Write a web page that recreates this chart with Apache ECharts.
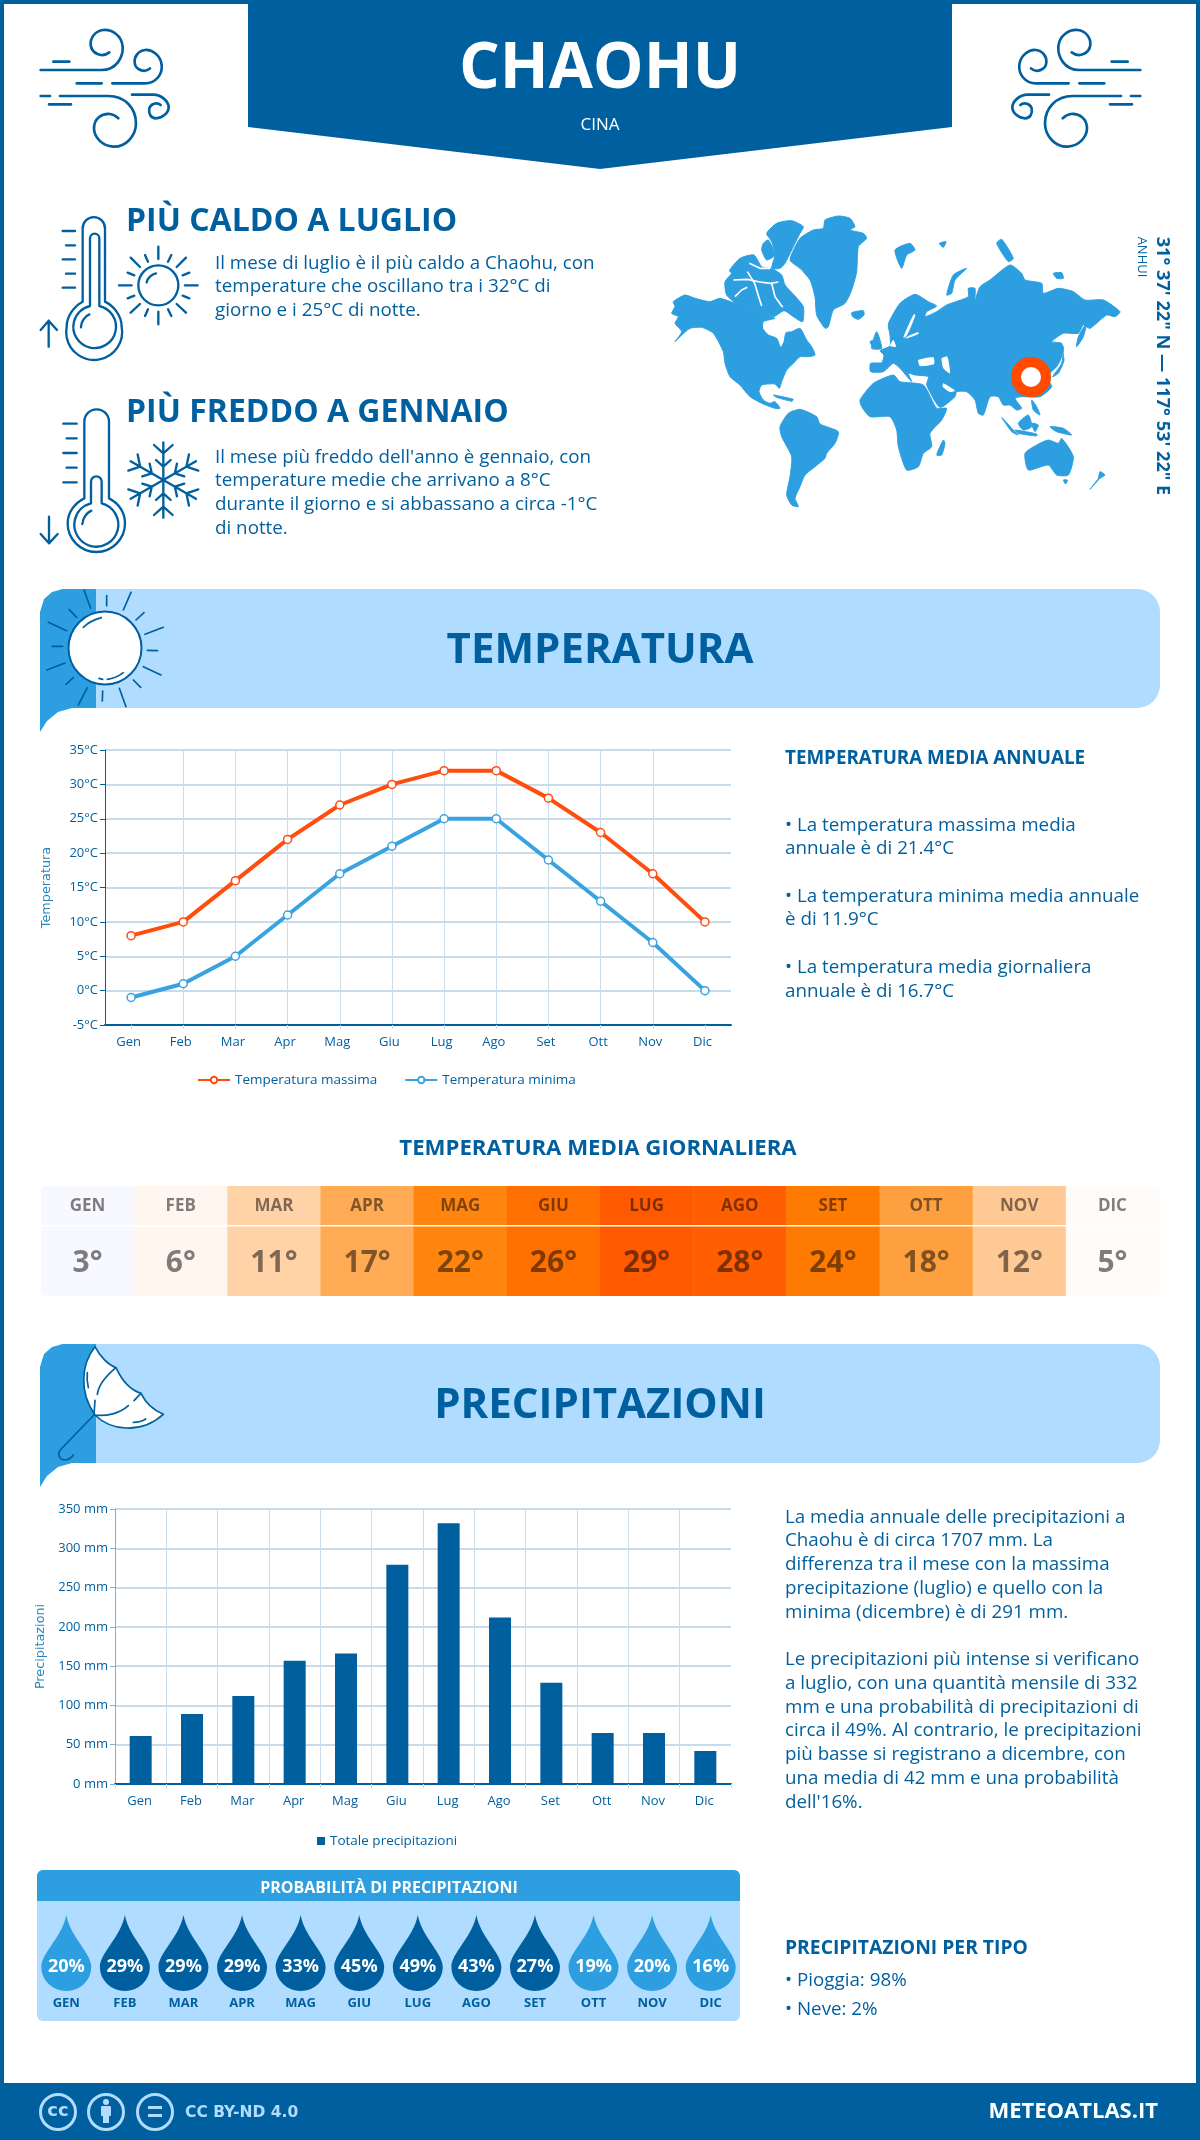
<!DOCTYPE html>
<html lang="it">
<head>
<meta charset="UTF-8">
<title>Chaohu</title>
<script src="https://cdn.jsdelivr.net/npm/echarts@6/dist/echarts.min.js"></script>
<style>
  html, body { margin: 0; padding: 0; background: #fff; }
  #page { width: 1200px; height: 2140px; }
</style>
</head>
<body>
<div id="page"></div>
<script>
// dati del grafico
var months = ['Gen', 'Feb', 'Mar', 'Apr', 'Mag', 'Giu', 'Lug', 'Ago', 'Set', 'Ott', 'Nov', 'Dic'];
var monthsUpper = ['GEN', 'FEB', 'MAR', 'APR', 'MAG', 'GIU', 'LUG', 'AGO', 'SET', 'OTT', 'NOV', 'DIC'];
var tempMax = [8, 10, 16, 22, 27, 30, 32, 32, 28, 23, 17, 10];
var tempMin = [-1, 1, 5, 11, 17, 21, 25, 25, 19, 13, 7, 0];
var tempMean = [3, 6, 11, 17, 22, 26, 29, 28, 24, 18, 12, 5];
var meanColors = ['#f8f9ff', '#fff6f0', '#ffd2a8', '#ffaa55', '#ff850f', '#ff7000', '#ff5a00', '#ff5f00', '#ff7a00', '#ffa040', '#ffc995', '#fffbf8'];
var rainTotal = [61, 89, 112, 157, 166, 279, 332, 212, 129, 65, 65, 42];
var rainProb = [20, 29, 29, 29, 33, 45, 49, 43, 27, 19, 20, 16];

var DARK = '#005f9e', MID = '#2d9fe0', LIGHT = '#b0dcff', ORANGE = '#ff4d0d';
var FONT = '"Open Sans"';

// sagome del planisfero, in pixel del ritaglio ingrandito 3x
var landShapes = [
  [[40,305],[75,285],[105,295],[150,305],[180,295],[225,310],[250,320],[300,325],[335,350],[345,355],[310,365],[308,385],[325,405],[350,415],[362,442],[372,425],[378,398],[395,395],[420,385],[440,420],[455,440],[465,465],[445,470],[420,470],[400,490],[380,510],[365,545],[358,565],[345,552],[305,555],[297,575],[310,600],[330,610],[345,605],[360,625],[345,625],[310,612],[270,590],[240,555],[210,530],[195,490],[190,455],[160,400],[125,382],[90,385],[60,410],[45,425],[65,395],[45,370],[55,350],[35,340],[45,320]],
  [[360,680],[385,640],[420,628],[470,650],[480,672],[535,695],[525,730],[500,760],[495,775],[465,800],[435,825],[420,860],[405,895],[415,920],[395,915],[380,885],[390,830],[395,770],[365,710]],
  [[390,180],[420,115],[460,90],[490,85],[495,60],[535,48],[570,55],[585,80],[570,90],[610,100],[620,115],[595,140],[590,215],[575,270],[555,310],[520,330],[505,380],[495,385],[470,345],[465,290],[450,240],[420,205]],
  [[320,100],[350,70],[395,62],[430,80],[420,100],[395,150],[375,190],[360,205],[335,205],[345,165],[335,125]],
  [[195,245],[215,220],[208,212],[240,175],[282,165],[305,200],[340,208],[365,225],[375,255],[405,288],[430,320],[428,365],[400,350],[372,332],[340,350],[300,325],[240,318],[200,285]],
  [[310,130],[325,120],[345,165],[320,180],[305,150]],
  [[575,338],[610,332],[612,345],[595,358],[578,350]],
  [[632,515],[632,490],[665,488],[672,465],[660,452],[690,438],[690,405],[685,372],[720,310],[765,283],[805,305],[830,318],[800,335],[795,350],[830,335],[860,315],[925,290],[925,265],[945,265],[945,300],[960,260],[990,240],[1050,195],[1085,220],[1095,240],[1145,250],[1150,280],[1195,265],[1240,275],[1275,300],[1330,300],[1380,335],[1365,350],[1340,345],[1290,385],[1270,375],[1255,400],[1210,400],[1175,425],[1205,430],[1205,470],[1190,500],[1160,530],[1175,560],[1140,590],[1085,590],[1065,595],[1085,625],[1070,630],[1050,615],[1030,615],[1015,590],[990,590],[970,645],[955,640],[945,600],[920,575],[890,575],[885,590],[840,622],[800,555],[805,530],[765,525],[745,520],[755,545],[720,505],[700,490],[670,515]],
  [[600,600],[640,550],[700,525],[720,545],[790,555],[830,625],[860,625],[845,660],[810,700],[815,740],[790,760],[775,800],[740,810],[715,740],[710,690],[690,650],[630,650],[605,620]],
  [[830,765],[850,720],[855,730],[845,765]],
  [[1095,760],[1130,735],[1165,720],[1195,730],[1205,715],[1240,770],[1225,825],[1190,825],[1165,795],[1105,810]],
  [[1210,840],[1222,840],[1217,852]],
  [[1290,868],[1320,835],[1335,825],[1320,815],[1315,835]],
  [[1025,652],[1060,690],[1075,705],[1055,695]],
  [[1065,690],[1130,702],[1130,708],[1075,700]],
  [[1075,670],[1105,645],[1115,680],[1090,690]],
  [[1115,670],[1135,675],[1125,695]],
  [[1170,680],[1210,685],[1235,705],[1190,695]],
  [[1115,600],[1130,620],[1140,645],[1120,630]],
  [[1178,530],[1205,490],[1210,440],[1200,430],[1212,480],[1195,520]],
  [[1250,440],[1255,410],[1280,370],[1270,410]],
  [[860,285],[880,225],[920,205],[885,240],[875,280]],
  [[705,150],[750,130],[765,150],[740,165],[725,205]],
  [[838,130],[858,125],[850,142]],
  [[1010,130],[1025,118],[1060,175],[1045,185]],
  [[1180,220],[1205,218],[1210,235],[1190,235]],
  [[650,395],[665,445],[635,445]],
  [[630,425],[645,420],[640,442]],
  [[340,585],[400,598],[395,604],[350,592]]
];
var seaShapes = [
  [[775,480],[820,472],[822,492],[780,498]],
  [[845,475],[862,470],[870,520],[850,505]],
  [[850,550],[885,572],[870,576],[848,560]],
  [[730,412],[747,372],[762,342],[766,346],[751,385],[737,412]],
  [[737,416],[775,402],[775,396],[745,408]],
  [[690,438],[700,420],[708,440]]
];
// canali tra le isole artiche
var channelLines = [
  [[220,240],[262,238],[300,246],[332,250],[355,246]],
  [[262,215],[284,250],[296,290],[305,318]],
  [[335,250],[345,290],[368,322]],
  [[225,290],[245,270],[262,262]],
  [[268,190],[300,205],[330,205]]
];

// icone
var windPath = 'M70,125L118,125M32,150L215,150C260,150 280,110 278,80C275,45 245,28 220,30C195,32 180,55 182,75C185,100 215,115 238,97'
  + 'M140,190L215,190M247,190L345,190C380,190 398,160 395,135C392,105 365,88 345,90C325,92 312,110 314,128C316,150 345,160 360,145'
  + 'M32,228L60,228M90,228L235,228C285,228 318,265 318,310C318,350 285,382 250,380C215,378 192,350 192,325C192,295 215,280 240,282C250,283 258,288 265,295'
  + 'M57,253L123,253M306,224L370,224C395,224 416,245 416,262C416,280 395,295 378,295C362,295 355,280 358,265C362,252 380,245 392,255';
var hotPath = 'M158,290L158,70A33,33 0 0 1 225,70L225,290C255,305 275,335 275,365A84,84 0 1 1 110,365C110,335 130,305 158,290Z'
  + 'M180,303L180,100A14,14 0 0 1 208,100L208,303A64,64 0 1 1 180,303Z'
  + 'M153,367C153,350 165,333 178,328M98,78L135,78M108,121L135,121M98,163L135,163M108,206L135,206M98,248L135,248'
  + 'M56,425L56,347M32,375L56,347L81,375';
var sunPath = 'M445,241A60,60 0 1 1 325,241A60,60 0 1 1 445,241ZM350,232C352,220 365,208 378,205'
  + 'M385,125L385,162M385,320L385,358M267,241L305,241M465,241L503,241M302,158L330,186M468,158L440,186M302,323L330,297M468,323L440,297'
  + 'M345,150L354,170M424,150L414,170M293,203L313,211M478,203L458,211M293,280L313,272M478,280L458,272M345,333L354,313M424,333L414,313';
var coldPath = 'M163,295L163,65A37,37 0 0 1 237,65L237,295C268,310 285,340 285,370A86,86 0 1 1 113,370C113,340 132,310 163,295Z'
  + 'M183,310L183,245A16,16 0 0 1 215,245L215,310A66,66 0 1 1 183,310Z'
  + 'M157,372C158,355 170,338 184,332M100,71L140,71M110,115L140,115M100,159L140,159M110,203L140,203M100,247L140,247'
  + 'M57,350L57,430M32,402L57,430L83,402';
var flakeArm = 'M400,127L400,353M372,135L400,160L428,135M378,180L400,200L422,180M372,345L400,320L428,345M378,300L400,280L422,300';
var sunRays = 'M162,15L182,70M230,32L230,62M303,22L280,75M342,83L318,105M400,127L345,148M352,196L383,197M340,245L393,270M310,285L332,307'
  + 'M268,310L288,365M218,318L217,348M172,308L145,360M130,278L108,298M105,234L50,255M98,184L66,184M110,137L55,112M140,97L117,73';
var sunGlow = 'M160,127C175,112 195,103 214,98M232,283C250,281 268,272 280,263M207,280L218,283';
var umbrellaTop = 'M195,35C155,85 145,170 195,240C240,285 330,300 400,238C370,225 345,200 333,175C300,165 275,135 258,98C235,90 210,65 195,35Z';
var umbrellaLines = 'M258,98C225,125 205,155 202,178M195,196L192,238M192,240C230,245 270,235 295,212M312,197L333,175M172,113C170,130 172,145 175,158M310,262C325,262 338,258 347,252'
  + 'M192,240L105,330C90,345 80,355 90,368C100,380 120,375 130,360';

var iconCount = 0;
function label(text, x, y, size, weight, color, align, family) {
  return {
    type: 'text', x: x, y: y + 1.5, z: 10,
    style: {
      text: text, fill: color || DARK, align: align || 'left', verticalAlign: 'middle',
      font: (weight || 400) + ' ' + size + 'px ' + (family || FONT)
    }
  };
}
function lines(rows, x, ys, size) {
  return rows.map(function (t, i) { return label(t, x, ys[i] - 1, size); });
}
function icon(d, ox, oy, width, extra) {
  // il tipo 'path' non va nel componente graphic: registro una forma per ogni icona
  var name = 'icon' + (iconCount++);
  echarts.graphic.registerShape(name, echarts.graphic.extendPath(d));
  var el = {
    type: name, x: ox, y: oy, scaleX: 1 / 3, scaleY: 1 / 3, z: 6,
    style: { fill: 'none', stroke: DARK, lineWidth: width, lineCap: 'round', lineJoin: 'round' }
  };
  for (var k in extra) { el[k] = extra[k]; }
  return el;
}
function banner(top, title) {
  return [
    { type: 'rect', z: 1, shape: { x: 60, y: top, width: 1100, height: 119, r: [0, 23, 23, 0] }, style: { fill: LIGHT } },
    { type: 'polygon', z: 2, shape: { points: [[40, top + 143], [40, top + 23], [44, top + 10], [52, top + 3], [63, top], [96, top], [96, top + 119], [72, top + 119], [58, top + 123], [47, top + 132]] }, style: { fill: MID } },
    label(title, 600, top + 61, 42, 700, DARK, 'center')
  ];
}

var BODY = 18.8;
var graphics = [
  // cornice
  { type: 'rect', shape: { x: 0, y: 0, width: 4, height: 2140 }, style: { fill: DARK } },
  { type: 'rect', shape: { x: 1196, y: 0, width: 4, height: 2140 }, style: { fill: DARK } },
  { type: 'rect', shape: { x: 0, y: 0, width: 1200, height: 4 }, style: { fill: DARK } },
  { type: 'polygon', shape: { points: [[248, 0], [952, 0], [952, 127], [600, 169], [248, 127]] }, style: { fill: DARK } },
  label('CHAOHU', 600, 68.5, 64, 700, '#fff', 'center'),
  label('CINA', 600, 124, 17, 400, '#fff', 'center'),
  icon(windPath, 30, 20, 8),
  icon(windPath, 1151, 20, 8, { scaleX: -1 / 3 }),

  // caldo / freddo
  label('PIÙ CALDO A LUGLIO', 126, 220, 32, 700),
  icon(hotPath, 30, 205, 7),
  icon(sunPath, 30, 205, 7)
];
graphics = graphics.concat(
  lines(['Il mese di luglio è il più caldo a Chaohu, con', 'temperature che oscillano tra i 32°C di', 'giorno e i 25°C di notte.'], 215, [263, 286, 310], BODY),
  [
    label('PIÙ FREDDO A GENNAIO', 126, 411, 32, 700),
    icon(coldPath, 30, 400, 7),
    icon(flakeArm, 30, 400, 7),
    icon(flakeArm, 163.3 - 400, 480 - 240, 7, { rotation: Math.PI / 3, originX: 400, originY: 240 }),
    icon(flakeArm, 163.3 - 400, 480 - 240, 7, { rotation: -Math.PI / 3, originX: 400, originY: 240 })
  ],
  lines(['Il mese più freddo dell\'anno è gennaio, con', 'temperature medie che arrivano a 8°C', 'durante il giorno e si abbassano a circa -1°C', 'di notte.'], 215, [457, 480, 504, 528], BODY),

  // planisfero
  [{
    type: 'group', x: 660, y: 200, scaleX: 1 / 3, scaleY: 1 / 3,
    children: landShapes.map(function (p) {
      return { type: 'polygon', shape: { points: p, smooth: 0.2 }, style: { fill: MID, stroke: MID, lineWidth: 3, lineJoin: 'round' } };
    }).concat(seaShapes.map(function (p) {
      return { type: 'polygon', z: 1, shape: { points: p, smooth: 0.2 }, style: { fill: '#fff' } };
    })).concat(channelLines.map(function (p) {
      return { type: 'polyline', z: 1, shape: { points: p }, style: { fill: 'none', stroke: '#fff', lineWidth: 5, lineJoin: 'round' } };
    }))
  },
  { type: 'circle', z: 5, shape: { cx: 1031, cy: 377, r: 15 }, style: { fill: '#fff', stroke: '#ff4a00', lineWidth: 10 } },
  {
    type: 'text', x: 1162, y: 366, rotation: -Math.PI / 2, z: 5,
    style: { text: '31° 37\' 22" N — 117° 53\' 22" E', fill: DARK, align: 'center', verticalAlign: 'middle', font: '700 18.2px ' + FONT }
  },
  {
    type: 'text', x: 1142, y: 257, rotation: -Math.PI / 2, z: 5,
    style: { text: 'ANHUI', fill: DARK, align: 'center', verticalAlign: 'middle', font: '400 13px ' + FONT }
  }],

  // temperatura
  banner(589, 'TEMPERATURA'),
  [
    { type: 'circle', z: 3, shape: { cx: 105, cy: 648, r: 36.5 }, style: { fill: '#fff', stroke: DARK, lineWidth: 2 } },
    icon(sunRays, 30, 585, 5),
    icon(sunGlow, 30, 585, 5),
    label('TEMPERATURA MEDIA ANNUALE', 785, 757, 18.8, 700)
  ],
  lines(['• La temperatura massima media', 'annuale è di 21.4°C', '• La temperatura minima media annuale', 'è di 11.9°C', '• La temperatura media giornaliera', 'annuale è di 16.7°C'], 785, [825, 848, 896, 919, 967, 991], BODY),
  [label('TEMPERATURA MEDIA GIORNALIERA', 598, 1147, 22.2, 700, DARK, 'center')],

  // precipitazioni
  banner(1344, 'PRECIPITAZIONI'),
  [
    icon(umbrellaTop, 30, 1335, 5, { style: { fill: '#fff', stroke: DARK, lineWidth: 5, lineJoin: 'round' } }),
    icon(umbrellaLines, 30, 1335, 5, { z: 7 })
  ],
  lines(['La media annuale delle precipitazioni a', 'Chaohu è di circa 1707 mm. La', 'differenza tra il mese con la massima', 'precipitazione (luglio) e quello con la', 'minima (dicembre) è di 291 mm.'], 785, [1517, 1540, 1564, 1588, 1612], BODY),
  lines(['Le precipitazioni più intense si verificano', 'a luglio, con una quantità mensile di 332', 'mm e una probabilità di precipitazioni di', 'circa il 49%. Al contrario, le precipitazioni', 'più basse si registrano a dicembre, con', 'una media di 42 mm e una probabilità', 'dell\'16%.'], 785, [1659, 1683, 1707, 1730, 1754, 1778, 1802], BODY),

  // riquadro probabilita
  [
    { type: 'rect', z: 0, shape: { x: 37, y: 1870, width: 703, height: 151, r: 6 }, style: { fill: LIGHT } },
    { type: 'rect', z: 0, shape: { x: 37, y: 1870, width: 703, height: 31, r: [6, 6, 0, 0] }, style: { fill: MID } },
    label('PROBABILITÀ DI PRECIPITAZIONI', 389, 1887, 16, 700, '#fff', 'center'),
    label('PRECIPITAZIONI PER TIPO', 785, 1947, 19.3, 700),
    label('• Pioggia: 98%', 785, 1979, BODY),
    label('• Neve: 2%', 785, 2008, BODY),

    // pie di pagina
    { type: 'rect', shape: { x: 0, y: 2083, width: 1200, height: 57 }, style: { fill: DARK } },
    { type: 'circle', z: 5, shape: { cx: 58, cy: 2112, r: 17.5 }, style: { fill: 'none', stroke: LIGHT, lineWidth: 3 } },
    { type: 'circle', z: 5, shape: { cx: 106, cy: 2112, r: 17.5 }, style: { fill: 'none', stroke: LIGHT, lineWidth: 3 } },
    { type: 'circle', z: 5, shape: { cx: 155, cy: 2112, r: 17.5 }, style: { fill: 'none', stroke: LIGHT, lineWidth: 3 } },
    label('cc', 58, 2109.5, 18, 700, LIGHT, 'center', '"DejaVu Sans"'),
    { type: 'circle', z: 5, shape: { cx: 106, cy: 2102, r: 3 }, style: { fill: LIGHT } },
    { type: 'rect', z: 5, shape: { x: 101, y: 2106, width: 10, height: 10, r: 1 }, style: { fill: LIGHT } },
    { type: 'rect', z: 5, shape: { x: 103, y: 2114, width: 6, height: 9 }, style: { fill: LIGHT } },
    { type: 'rect', z: 5, shape: { x: 148, y: 2106, width: 14, height: 3 }, style: { fill: LIGHT } },
    { type: 'rect', z: 5, shape: { x: 148, y: 2114, width: 14, height: 3 }, style: { fill: LIGHT } },
    label('CC BY-ND 4.0', 185, 2111, 15.5, 700, LIGHT, 'left', '"DejaVu Sans"'),
    label('METEOATLAS.IT', 1158, 2110.5, 22, 700, '#fff', 'right')
  ]
);

// cella della striscia delle medie giornaliere
function renderMeanCell(params, api) {
  var i = api.value(0);
  var area = params.coordSys;
  var w = api.size([1, 0])[0];
  var cx = api.coord([i, 0])[0];
  var x = cx - w / 2;
  var ink = 'rgba(0,0,0,0.5)';
  var r = i === 0 ? [5, 0, 0, 5] : (i === 11 ? [0, 5, 5, 0] : 0);
  return {
    type: 'group',
    children: [
      { type: 'rect', shape: { x: x, y: area.y, width: w + 0.5, height: area.height, r: r }, style: { fill: meanColors[i] } },
      { type: 'rect', shape: { x: x, y: area.y + 39, width: w + 0.5, height: 1.5 }, style: { fill: '#fff' } },
      { type: 'text', style: { x: cx, y: area.y + 20.5, text: monthsUpper[i], fill: ink, align: 'center', verticalAlign: 'middle', font: '700 17px ' + FONT } },
      { type: 'text', style: { x: cx, y: area.y + 77, text: api.value(1) + '°', fill: ink, align: 'center', verticalAlign: 'middle', font: '700 30px ' + FONT } }
    ]
  };
}

var tickText = { color: DARK, fontFamily: FONT, fontSize: 13 };
var gridH = { show: true, lineStyle: { color: '#b5cfe3', width: 1.5 } };
var axisName = { color: '#2787bd', fontFamily: 'DejaVu Sans', fontSize: 12.8 };

function monthAxis(gridIndex, onPoints, pad) {
  return {
    type: 'category', gridIndex: gridIndex, data: months,
    axisLine: { onZero: false, lineStyle: { color: DARK, width: 2 } },
    axisTick: { show: true, length: 4, alignWithLabel: onPoints, lineStyle: { color: '#c8dcea' } },
    axisLabel: Object.assign({ margin: 11, padding: [0, pad, 0, 0] }, tickText),
    splitLine: {
      show: true, alignWithLabel: onPoints, showMinLine: false, showMaxLine: false,
      lineStyle: { color: '#c8dcea', width: 1 }
    }
  };
}
function valueAxis(gridIndex, min, max, step, fmt, name, gap, lineColor) {
  return {
    type: 'value', gridIndex: gridIndex, min: min, max: max, interval: step,
    name: name, nameLocation: 'middle', nameGap: gap, nameTextStyle: axisName,
    axisLine: { show: true, lineStyle: { color: lineColor, width: 1 } },
    axisTick: { show: true, length: 5, lineStyle: { color: lineColor } },
    axisLabel: Object.assign({ formatter: fmt, margin: 7 }, tickText),
    splitLine: gridH
  };
}

var chart = echarts.init(document.getElementById('page'));
chart.setOption({
  animation: false,
  textStyle: { fontFamily: FONT },
  graphic: graphics,
  legend: [
    {
      data: ['Temperatura massima', 'Temperatura minima'], left: 192, top: 1068,
      itemWidth: 32, itemHeight: 8, itemGap: 27,
      textStyle: { color: DARK, fontFamily: FONT, fontSize: 13.5 }
    },
    {
      data: ['Totale precipitazioni'], left: 312, top: 1829,
      itemWidth: 8, itemHeight: 8, itemGap: 8, icon: 'rect',
      textStyle: { color: DARK, fontFamily: FONT, fontSize: 13.5 }
    }
  ],
  grid: [
    { left: 105, top: 750, width: 626, height: 275 },
    { left: 115, top: 1509, width: 616, height: 275 },
    { left: 41, top: 1186, width: 1118, height: 110 },
    { left: 37, top: 1915, width: 703, height: 76 }
  ],
  xAxis: [
    monthAxis(0, true, 5),
    monthAxis(1, false, 2),
    { type: 'category', gridIndex: 2, data: monthsUpper, show: false },
    {
      type: 'category', gridIndex: 3, data: monthsUpper,
      axisLine: { show: false }, axisTick: { show: false },
      axisLabel: { margin: 6, color: DARK, fontFamily: FONT, fontWeight: 700, fontSize: 13 }
    }
  ],
  yAxis: [
    valueAxis(0, -5, 35, 5, '{value}°C', 'Temperatura', 52, DARK),
    valueAxis(1, 0, 350, 50, '{value} mm', 'Precipitazioni', 60, '#7fb0d0'),
    { type: 'value', gridIndex: 2, show: false, min: 0, max: 40 },
    { type: 'value', gridIndex: 3, show: false, min: -1, max: 1 }
  ],
  series: [
    {
      name: 'Temperatura massima', type: 'line', xAxisIndex: 0, yAxisIndex: 0, data: tempMax,
      symbol: 'circle', symbolSize: 8, showAllSymbol: true,
      lineStyle: { color: ORANGE, width: 4 },
      itemStyle: { color: '#fff', borderColor: ORANGE, borderWidth: 1.5 }
    },
    {
      name: 'Temperatura minima', type: 'line', xAxisIndex: 0, yAxisIndex: 0, data: tempMin,
      symbol: 'circle', symbolSize: 8, showAllSymbol: true,
      lineStyle: { color: '#38a3e0', width: 4 },
      itemStyle: { color: '#fff', borderColor: '#38a3e0', borderWidth: 1.5 }
    },
    {
      name: 'Totale precipitazioni', type: 'bar', xAxisIndex: 1, yAxisIndex: 1, data: rainTotal,
      barWidth: 22, itemStyle: { color: DARK }
    },
    {
      type: 'custom', xAxisIndex: 2, yAxisIndex: 2, renderItem: renderMeanCell,
      encode: { x: 0, y: 1 },
      data: tempMean.map(function (t, i) { return [i, t]; })
    },
    {
      type: 'scatter', xAxisIndex: 3, yAxisIndex: 3,
      symbol: 'path://M25,0C29,22 50,38 50,52A25,24 0 0 1 0,52C0,38 21,22 25,0Z',
      symbolSize: [50, 76],
      data: rainProb.map(function (p, i) { return [i, 0, p]; }),
      itemStyle: {
        opacity: 1,
        color: function (d) { return d.value[2] > 25 ? DARK : MID; }
      },
      label: {
        show: true, position: 'inside', offset: [0, 14],
        formatter: function (d) { return d.value[2] + '%'; },
        color: '#fff', fontFamily: FONT, fontWeight: 700, fontSize: 18
      }
    }
  ]
});
</script>
</body>
</html>
